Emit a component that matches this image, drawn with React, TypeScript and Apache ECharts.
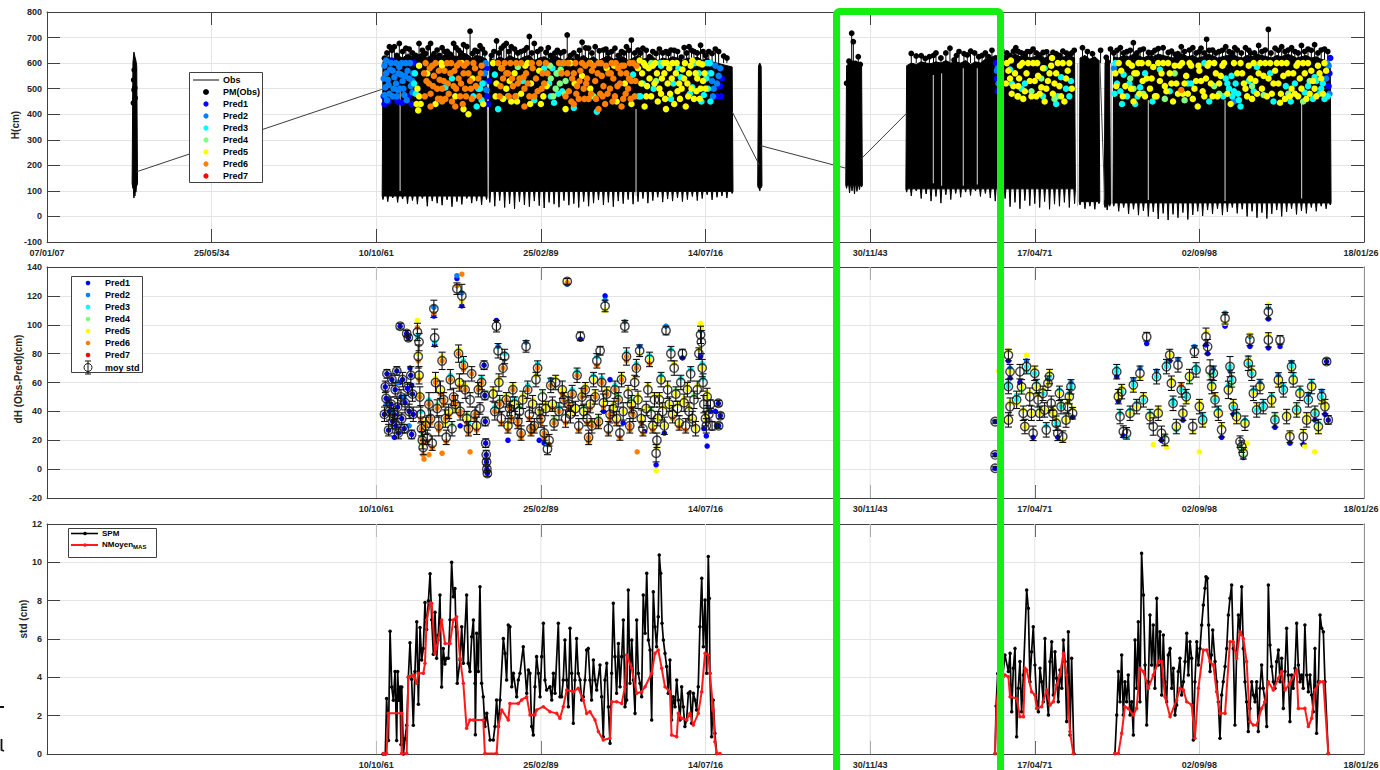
import React, { useEffect, useRef } from 'react';
import * as echarts from 'echarts';

// ---------------- axis ticks / labels ----------------
const xTickLabels = ['07/01/07', '25/05/34', '10/10/61', '25/02/89', '14/07/16', '30/11/43', '17/04/71', '02/09/98', '18/01/26'];
const xTicksLower = [20, 30, 40, 50, 60, 70, 80];
const predNames = ['Pred1', 'Pred2', 'Pred3', 'Pred4', 'Pred5', 'Pred6', 'Pred7'];
const predColors = ['#0000ff', '#0080ff', '#00ffff', '#80ff80', '#ffff00', '#ff8000', '#ff0000'];

// ---------------- panel 1 : H(cm) ----------------
// Obs envelope blocks: [x, low, high]
const obsSpike = [[5.22, 110, 600], [5.28, 72, 643], [5.34, 80, 625], [5.4, 95, 610], [5.45, 120, 590]];
const obsA1 = [[20.41, 66, 605], [20.7, 58, 625], [21.0, 72, 615], [21.3, 55, 630], [21.6, 68, 620], [21.9, 50, 635], [22.2, 62, 625], [22.5, 48, 630], [22.8, 70, 640], [23.1, 40, 620], [23.4, 60, 635], [23.7, 52, 630], [24.0, 44, 625], [24.3, 65, 640], [24.6, 38, 630], [24.9, 58, 625], [25.2, 47, 640], [25.5, 70, 635], [25.8, 52, 620], [26.1, 60, 630], [26.4, 45, 625], [26.7, 66, 615]];
const obsA2 = [[26.9, 55, 620], [27.2, 40, 610], [27.5, 62, 625], [27.8, 35, 615], [28.1, 50, 630], [28.4, 30, 620], [28.7, 58, 615], [29.0, 45, 625], [29.3, 38, 630], [29.6, 60, 610], [29.9, 42, 620], [30.2, 33, 625], [30.5, 55, 615], [30.8, 48, 630], [31.1, 36, 620], [31.4, 62, 610], [31.7, 44, 625], [32.0, 50, 615], [32.3, 35, 620], [32.6, 58, 630], [32.9, 40, 615], [33.2, 52, 625], [33.5, 64, 610], [33.8, 45, 620], [34.1, 55, 630], [34.4, 38, 615], [34.7, 60, 620], [35.0, 50, 625], [35.3, 66, 610], [35.6, 48, 620], [35.9, 58, 630], [36.2, 70, 615], [36.5, 52, 620], [36.8, 62, 625], [37.1, 75, 610], [37.4, 56, 620], [37.7, 68, 615], [38.0, 60, 625], [38.3, 72, 620], [38.6, 58, 610], [38.9, 66, 620], [39.2, 78, 615], [39.5, 62, 625], [39.8, 70, 610], [40.1, 85, 620], [40.4, 65, 605], [40.7, 75, 600], [41.0, 80, 595], [41.3, 72, 590], [41.62, 90, 585]];
const obsMid = [[43.22, 110, 590], [43.3, 100, 600], [43.38, 112, 588]];
const obsC = [[48.57, 110, 590], [48.75, 92, 600], [48.9, 100, 610], [49.05, 88, 600], [49.2, 98, 605], [49.35, 105, 595], [49.48, 115, 590]];
const obsB1 = [[52.22, 95, 590], [52.5, 80, 600], [52.8, 100, 595], [53.1, 70, 605], [53.4, 88, 600], [53.7, 60, 598], [54.0, 78, 605], [54.3, 52, 600], [54.6, 85, 610], [54.9, 66, 600], [55.2, 90, 605], [55.5, 75, 600], [55.8, 95, 610], [56.1, 82, 595], [56.4, 100, 605], [56.7, 78, 600], [57.0, 90, 615], [57.3, 72, 620], [57.6, 60, 630], [57.9, 45, 625], [58.2, 70, 630], [58.5, 38, 620], [58.8, 55, 635], [59.1, 30, 625], [59.4, 62, 630], [59.7, 42, 620], [60.0, 50, 625], [60.3, 35, 630], [60.6, 58, 620], [60.9, 28, 625], [61.2, 48, 630], [61.5, 40, 620], [61.8, 55, 625], [62.1, 35, 630], [62.42, 50, 620]];
const obsB2 = [[62.75, 45, 620], [63.05, 30, 630], [63.35, 40, 615], [63.65, 28, 625], [63.9, 50, 610]];
const obsB3 = [[64.27, 35, 600], [64.4, 25, 620], [64.55, 40, 610]];
const obsB4 = [[64.8, 40, 625], [65.1, 20, 620], [65.4, 35, 630], [65.7, 10, 625], [66.0, 28, 635], [66.3, 5, 630], [66.6, 22, 620], [66.9, 0, 630], [67.2, 18, 625], [67.5, -10, 635], [67.8, 12, 630], [68.1, -14, 625], [68.4, 8, 620], [68.7, -5, 630], [69.0, 15, 635], [69.3, -12, 625], [69.6, 6, 630], [69.9, 20, 620], [70.2, 2, 625], [70.5, 25, 635], [70.8, 10, 630], [71.1, 30, 620], [71.4, 5, 625], [71.7, 18, 630], [72.0, 35, 635], [72.3, 12, 625], [72.6, 28, 620], [72.9, 0, 630], [73.2, 20, 625], [73.5, -5, 635], [73.8, 15, 630], [74.1, -8, 625], [74.4, 10, 620], [74.7, 25, 630], [75.0, 0, 625], [75.3, 18, 635], [75.6, 30, 630], [75.9, 8, 620], [76.2, 22, 625], [76.5, 12, 630], [76.8, 35, 620], [77.1, 20, 625], [77.4, 40, 615], [77.7, 30, 610], [77.95, 45, 600]];
// connecting segments of Obs across data gaps: [x1, y1, x2, y2]
const obsLinks = [[5.45, 175, 20.33, 497], [41.62, 410, 43.27, 201], [43.35, 277, 48.57, 188], [49.48, 227, 52.22, 404], [63.95, 612, 64.25, 64]];
// short data gaps inside blocks: [x, low, high]
const obsGaps = [[21.45, 100, 490], [26.8, 70, 600], [35.78, 80, 420], [53.84, 130, 553], [54.34, 120, 560], [55.66, 120, 580], [56.51, 125, 580], [62.6, 40, 600], [64.67, 50, 600], [66.9, 64, 456], [71.56, 60, 456], [76.21, 70, 456]];

const pmObs = [
  [5.3, 573], [5.27, 534], [5.33, 503], [5.29, 495], [5.35, 463], [5.25, 444],
  [20.5, 619], [20.8, 664], [21.1, 664], [21.4, 677], [21.8, 658], [22.2, 640], [22.6, 677], [23.0, 638], [23.3, 677], [23.7, 651], [24.0, 660], [24.3, 650], [24.7, 677], [25.0, 650], [25.3, 672], [25.5, 668], [25.7, 725], [26.0, 650], [26.3, 668], [26.6, 640], [27.0, 630], [27.3, 690], [27.6, 658], [27.9, 677], [28.2, 664], [28.6, 640], [29.0, 650], [29.3, 704], [29.6, 677], [29.8, 645], [30.3, 645], [30.6, 630], [31.2, 640], [31.6, 710], [31.8, 630], [32.2, 625], [32.5, 684], [32.9, 658], [33.3, 664], [33.8, 651], [34.1, 640], [34.5, 658], [34.9, 645], [35.2, 664], [35.5, 690], [35.9, 651], [36.2, 658], [36.6, 625], [37.0, 638], [37.6, 645], [37.9, 651], [38.3, 645], [38.7, 664], [39.0, 664], [39.3, 645], [39.7, 670], [40.0, 630], [40.4, 638], [40.8, 645], [41.1, 630],
  [20.65, 640], [20.95, 650], [21.25, 630], [21.6, 645], [22.0, 655], [22.4, 630], [22.8, 650], [23.15, 660], [23.5, 640], [23.85, 630], [24.15, 645], [24.5, 635], [24.85, 660], [25.15, 640], [25.85, 638], [26.15, 645], [26.45, 655], [27.15, 645], [27.45, 640], [27.75, 668], [28.05, 645], [28.4, 655], [28.8, 645], [29.15, 660], [29.45, 640], [30.0, 655], [30.45, 660], [30.85, 640], [31.0, 650], [31.4, 645], [32.0, 640], [32.35, 650], [32.7, 664], [33.1, 640], [33.55, 648], [33.95, 655], [34.3, 645], [34.7, 630], [35.05, 640], [35.35, 650], [35.7, 640], [36.05, 640], [36.4, 650], [36.8, 645], [37.2, 655], [37.4, 640], [37.75, 638], [38.1, 650], [38.5, 630], [38.85, 640], [39.15, 650], [39.5, 640], [39.85, 645], [40.2, 645], [40.6, 655], [41.3, 620],
  [48.88, 717], [48.98, 684], [48.7, 612], [49.1, 599], [49.28, 625], [48.57, 521], [49.4, 595],
  [52.5, 638], [53.1, 632], [53.6, 625], [54.0, 640], [54.85, 658], [55.1, 612], [55.4, 645], [55.7, 640], [56.1, 650], [56.6, 625], [57.0, 640], [57.4, 650], [57.8, 600], [58.3, 640], [58.7, 650], [59.0, 645], [59.4, 636], [59.7, 651], [60.1, 640], [60.5, 645], [60.9, 632], [61.3, 640], [61.7, 650], [62.1, 636], [62.4, 650], [62.9, 660], [63.2, 645], [64.0, 650],
  [52.8, 628], [53.35, 618], [53.85, 630], [54.3, 620], [54.6, 640], [55.25, 630], [55.9, 632], [56.35, 640], [56.8, 630], [57.2, 625], [58.0, 650], [58.5, 630], [58.85, 660], [59.2, 640], [59.55, 645], [59.9, 655], [60.3, 632], [60.7, 650], [61.1, 645], [61.5, 630], [61.9, 645], [62.25, 640], [63.5, 640], [64.3, 630],
  [64.6, 655], [65.0, 650], [65.4, 640], [65.99, 680], [66.4, 651], [66.9, 645], [67.3, 650], [67.8, 660], [68.1, 645], [68.5, 640], [68.9, 664], [69.4, 651], [69.8, 640], [70.1, 658], [70.44, 693], [70.8, 651], [71.2, 645], [71.6, 664], [72.0, 640], [72.3, 651], [72.8, 660], [73.1, 645], [73.6, 669], [74.0, 651], [74.19, 732], [74.6, 658], [75.0, 664], [75.4, 651], [75.8, 645], [76.2, 669], [76.6, 655], [77.0, 672], [77.4, 651], [77.8, 645],
  [64.8, 640], [65.2, 660], [65.6, 645], [65.8, 650], [66.2, 640], [66.6, 655], [67.1, 640], [67.5, 660], [68.3, 650], [68.7, 640], [69.1, 645], [69.6, 660], [70.0, 645], [70.3, 640], [70.6, 650], [71.0, 640], [71.4, 650], [71.8, 645], [72.15, 660], [72.55, 640], [73.0, 650], [73.35, 640], [73.8, 645], [74.35, 640], [74.8, 650], [75.2, 645], [75.6, 660], [76.0, 640], [76.4, 645], [76.8, 650], [77.2, 640], [77.6, 655]
];

const hPred1 = [[20.45, 470], [20.75, 450], [21.15, 465], [21.55, 445], [21.95, 470], [22.15, 440], [20.95, 610], [26.75, 470], [26.8, 440], [26.85, 530], [40.9, 510], [40.7, 470], [57.65, 600], [57.7, 540], [57.75, 490], [77.9, 560], [77.85, 510], [77.95, 620],
  [20.5, 440], [21.3, 450], [22.3, 600], [26.7, 580], [40.95, 470], [41.0, 540]];
const hPred2 = [[20.5, 590], [20.6, 560], [20.7, 535], [20.55, 505], [20.8, 480], [20.9, 600], [21.0, 570], [21.1, 545], [21.2, 520], [21.3, 495], [21.0, 470], [21.4, 585], [21.5, 555], [21.6, 530], [21.45, 500], [21.7, 475], [21.8, 600], [21.9, 570], [22.0, 540], [22.1, 510], [22.2, 485], [21.85, 455], [22.25, 560], [20.65, 455], [26.55, 520], [26.7, 495], [40.2, 560], [40.4, 530], [40.6, 590], [40.5, 500], [40.8, 550], [57.7, 570], [57.8, 520], [77.85, 590], [77.7, 540],
  [20.45, 540], [20.6, 610], [20.75, 515], [20.85, 575], [21.05, 500], [21.2, 600], [21.35, 560], [21.55, 600], [21.65, 500], [21.75, 550], [22.05, 600], [22.2, 530], [20.5, 475], [21.25, 470], [26.6, 560], [26.65, 600], [40.3, 600], [40.45, 470], [40.7, 520], [40.9, 580],
  [57.75, 580], [77.75, 600], [77.9, 480], [72.1, 450], [64.82, 580]];
const hPred3 = [[22.3, 520], [22.4, 480], [24.2, 505], [24.6, 540], [25.9, 470], [26.1, 430], [26.3, 500], [26.4, 455], [27.2, 555], [27.4, 420], [28.0, 470], [28.9, 530], [29.6, 455], [30.2, 580], [30.5, 520], [30.8, 445], [31.0, 560], [31.3, 490], [32.0, 425], [33.4, 410], [35.6, 555], [36.2, 520], [37.3, 590], [37.9, 460], [38.5, 545], [39.2, 505], [39.6, 560], [39.9, 475], [40.1, 600], [40.3, 450], [58.5, 575], [59.4, 520], [60.6, 580], [61.6, 545], [61.9, 500], [62.1, 470], [61.3, 440], [65.0, 520], [65.2, 490], [65.4, 555], [65.6, 470], [66.1, 440], [66.4, 505], [67.6, 575], [69.3, 520], [70.3, 600], [71.6, 540], [71.8, 500], [72.0, 470], [72.2, 520], [72.4, 455], [73.5, 585], [74.3, 560], [75.8, 520], [76.4, 485], [77.0, 545], [77.4, 500], [77.6, 460],
  [22.35, 560], [26.2, 500], [26.45, 520], [30.6, 470], [30.7, 580], [31.05, 480], [31.35, 600], [36.05, 470], [36.85, 500], [37.25, 600], [38.05, 520], [38.35, 580], [39.05, 480], [39.35, 600], [39.75, 450], [40.05, 540], [40.15, 500], [40.25, 600], [40.35, 560], [35.95, 470],
  [58.6, 520], [59.2, 500], [60.5, 470], [61.4, 470], [62.2, 530], [64.85, 480], [64.9, 600], [65.3, 440], [65.75, 520], [66.25, 470], [66.7, 560], [67.15, 450], [68.2, 490], [69.5, 520], [70.6, 450], [71.45, 470], [71.7, 520], [71.95, 550], [72.1, 490], [72.35, 480], [72.5, 430], [73.0, 530], [73.3, 490], [74.5, 450], [75.25, 510], [75.55, 450], [76.6, 510], [77.1, 530], [77.3, 480], [77.5, 520], [77.8, 470], [76.9, 460]];
const hPred4 = [[30.6, 540], [30.9, 500], [31.2, 575], [31.5, 530], [28.6, 585], [33.2, 470], [37.0, 530], [65.8, 540], [66.6, 480], [68.5, 560], [70.9, 510], [73.9, 475], [76.7, 530], [59.8, 490],
  [30.55, 590], [30.75, 470], [30.95, 560], [31.15, 520], [31.45, 480], [28.5, 470], [36.7, 600],
  [59.0, 470], [60.4, 540], [61.2, 460], [66.0, 500], [67.9, 460], [69.1, 455], [71.2, 480], [73.2, 510], [75.4, 480], [76.3, 450]];
const hPred5 = [[22.5, 500], [22.6, 470], [22.7, 440], [22.55, 415], [23.1, 560], [23.6, 440], [24.0, 590], [24.8, 470], [25.2, 600], [25.6, 400], [25.85, 540], [27.1, 600], [27.3, 520], [27.6, 580], [27.9, 500], [28.2, 450], [28.4, 560], [28.8, 480], [29.2, 600], [29.4, 520], [29.9, 570], [30.0, 440], [31.8, 600], [32.5, 550], [33.0, 500], [34.0, 580], [34.6, 450], [35.1, 520], [35.9, 580], [36.0, 610], [36.4, 470], [36.6, 540], [36.8, 590], [37.1, 450], [37.2, 500], [37.5, 560], [37.7, 520], [38.0, 600], [38.1, 440], [38.3, 490], [38.6, 575], [38.8, 430], [38.9, 520], [39.1, 590], [39.3, 460], [39.5, 540], [39.7, 500], [39.8, 595], [36.3, 430], [37.6, 420],
  [22.45, 440], [22.6, 590], [23.95, 600], [25.3, 420], [26.5, 440], [27.25, 470], [27.7, 460], [28.1, 530], [28.55, 450], [29.05, 590], [29.35, 440], [30.15, 470], [30.35, 510], [31.5, 420], [32.05, 520], [33.0, 600], [34.45, 590], [35.5, 440], [36.1, 520], [36.15, 560], [36.25, 600], [36.45, 510], [36.55, 580], [36.7, 470], [36.9, 520], [36.95, 600], [37.05, 560], [37.3, 480], [37.35, 540], [37.45, 600], [37.55, 460], [37.8, 580], [37.85, 480], [37.95, 540], [38.2, 560], [38.25, 600], [38.4, 520], [38.45, 460], [38.7, 540], [38.75, 600], [38.95, 470], [39.0, 560], [39.15, 500], [39.2, 610], [39.4, 560], [39.45, 490], [39.6, 600], [39.65, 460], [39.85, 530], [39.95, 560], [40.0, 500], [36.35, 590], [37.65, 600], [38.55, 500],
  [58.3, 600], [58.5, 540], [58.6, 480], [58.8, 560], [59.0, 510], [59.1, 590], [59.3, 460], [59.5, 560], [59.7, 530], [59.9, 600], [60.1, 470], [60.2, 550], [60.4, 505], [60.6, 450], [60.8, 530], [61.0, 590], [61.1, 480], [61.3, 560], [61.5, 510], [61.7, 600], [61.8, 450], [62.0, 570],
  [58.25, 520], [58.4, 570], [58.55, 610], [58.7, 510], [58.95, 470], [59.05, 540], [59.25, 600], [59.4, 490], [59.6, 600], [59.8, 470], [60.0, 530], [60.15, 600], [60.3, 480], [60.5, 580], [60.7, 500], [60.9, 560], [61.05, 620], [61.2, 520], [61.4, 600], [61.6, 470], [61.9, 540], [62.1, 600], [62.25, 500],
  [64.9, 560], [65.1, 600], [65.5, 510], [65.9, 590], [66.2, 560], [66.5, 600], [66.8, 540], [67.0, 500], [67.2, 585], [67.4, 470], [67.6, 530], [67.8, 600], [68.0, 490], [68.2, 560], [68.4, 450], [68.6, 520], [68.8, 590], [69.0, 480], [69.2, 550], [69.4, 600], [69.6, 460], [69.8, 530], [70.0, 570], [70.2, 490], [70.4, 540], [70.6, 600], [70.8, 470], [71.0, 560], [71.2, 520], [71.4, 590], [72.6, 560], [72.8, 500], [73.0, 590], [73.2, 460], [73.4, 530], [73.6, 560], [73.8, 500], [74.0, 600], [74.2, 540], [74.4, 480], [74.6, 570], [74.8, 520], [75.0, 600], [75.2, 460], [75.4, 560], [75.6, 500], [75.9, 590], [76.1, 540], [76.3, 600], [76.5, 460], [76.8, 570], [77.0, 500], [77.2, 590], [77.4, 540], [77.6, 600], [69.9, 430], [66.0, 450], [71.9, 440], [74.9, 445], [76.0, 470],
  [64.95, 510], [65.25, 570], [65.35, 470], [65.7, 600], [65.85, 500], [66.05, 560], [66.3, 600], [66.35, 480], [66.55, 530], [66.7, 470], [66.9, 600], [67.1, 540], [67.3, 470], [67.5, 600], [67.7, 560], [67.9, 510], [68.1, 600], [68.3, 520], [68.5, 590], [68.7, 480], [68.95, 600], [69.1, 520], [69.3, 480], [69.5, 590], [69.7, 500], [69.95, 590], [70.1, 530], [70.3, 470], [70.5, 590], [70.7, 520], [70.9, 600], [71.1, 470], [71.3, 550], [71.5, 600], [71.7, 480], [72.1, 600], [72.3, 560], [72.5, 600], [72.7, 520], [72.9, 470], [73.1, 540], [73.3, 600], [73.5, 480], [73.7, 600], [73.9, 550], [74.1, 470], [74.3, 600], [74.5, 520], [74.7, 600], [74.95, 480], [75.1, 550], [75.3, 600], [75.5, 470], [75.7, 560], [75.8, 480], [76.0, 600], [76.2, 500], [76.4, 560], [76.6, 600], [76.7, 480], [76.9, 530], [77.1, 470], [77.3, 560], [77.5, 480], [77.7, 570]];
const hPred6 = [[22.9, 560], [23.0, 600], [23.2, 520], [23.3, 480], [23.4, 590], [23.5, 550], [23.7, 500], [23.8, 570], [23.9, 460], [24.1, 530], [24.3, 600], [24.4, 480], [24.5, 560], [24.7, 510], [24.9, 590], [25.0, 540], [25.1, 470], [25.3, 560], [25.4, 500], [25.5, 600], [25.7, 530], [25.8, 460], [26.0, 580], [26.2, 540], [26.4, 590], [23.3, 430], [24.0, 450], [24.8, 430], [27.5, 470], [27.7, 540], [27.8, 600], [28.0, 560], [28.3, 510], [28.5, 600], [28.7, 540], [29.0, 500], [29.1, 560], [29.3, 470], [29.5, 580], [29.7, 540], [29.8, 490], [30.1, 560], [30.3, 600], [29.0, 430], [31.4, 600], [31.6, 560], [31.7, 490], [31.9, 540], [32.1, 600], [32.2, 510], [32.3, 460], [32.4, 570], [32.6, 500], [32.7, 590], [32.8, 540], [32.9, 460], [33.1, 570], [33.3, 530], [33.5, 600], [33.6, 480], [33.7, 550], [33.8, 510], [33.9, 440], [34.1, 560], [34.2, 500], [34.3, 600], [34.4, 540], [34.5, 470], [34.7, 580], [34.8, 520], [34.9, 590], [35.0, 460], [35.2, 560], [35.3, 500], [35.4, 600], [35.5, 530], [35.7, 470], [35.8, 590], [32.0, 440], [34.9, 430], [33.5, 420], [31.1, 600], [68.9, 495],
  [22.95, 470], [23.05, 530], [23.25, 580], [23.45, 510], [23.6, 600], [23.75, 460], [23.85, 535], [24.0, 500], [24.15, 570], [24.2, 460], [24.35, 520], [24.55, 600], [24.6, 450], [24.75, 570], [24.85, 500], [25.05, 600], [25.15, 520], [25.25, 440], [25.35, 590], [25.45, 470], [25.6, 560], [25.75, 500], [25.9, 600], [26.05, 510], [26.25, 470], [26.35, 560],
  [27.4, 600], [27.55, 510], [27.65, 580], [27.9, 560], [28.05, 470], [28.15, 600], [28.25, 540], [28.45, 470], [28.6, 520], [28.8, 600], [28.95, 545], [29.2, 520], [29.45, 600], [29.6, 470], [29.9, 600], [30.05, 500], [30.2, 520], [30.4, 560],
  [31.25, 560], [31.5, 470], [31.65, 600], [31.85, 450], [32.0, 560], [32.15, 480], [32.35, 530], [32.5, 600], [32.65, 460], [32.75, 520], [32.95, 600], [33.05, 480], [33.2, 590], [33.35, 460], [33.45, 560], [33.65, 600], [33.75, 470], [33.95, 590], [34.05, 480], [34.25, 560], [34.35, 450], [34.55, 600], [34.65, 510], [34.85, 560], [35.05, 590], [35.15, 480], [35.35, 540], [35.45, 460], [35.6, 600], [35.75, 530]];
const hPred7: number[][] = [];

// ---------------- panel 2 : dH ----------------
// moy std: [x, mean, std]
const moyStd = [
  [20.5, 38, 5], [20.55, 57, 4], [20.6, 49, 5], [20.65, 66, 3], [20.75, 27, 4], [20.8, 40, 6], [20.9, 45, 5], [20.95, 62, 4], [21.0, 33, 5], [21.1, 38, 4], [21.15, 55, 5], [21.2, 30, 5], [21.25, 68, 3], [21.3, 43, 6], [21.35, 25, 4], [21.45, 99, 2], [21.5, 50, 5], [21.55, 35, 4], [21.6, 62, 5], [21.7, 28, 3], [21.75, 46, 5], [21.85, 94, 2], [21.95, 91, 2], [21.9, 56, 4], [22.0, 40, 5], [22.1, 65, 6], [22.15, 24, 3], [22.2, 52, 5], [22.25, 38, 5],
  [22.5, 95, 6], [22.55, 78, 8], [22.6, 65, 6], [22.65, 50, 7], [22.7, 38, 6], [22.75, 28, 5], [22.8, 20, 6], [22.85, 15, 5], [22.6, 88, 6],
  [23.0, 30, 6], [23.1, 22, 5], [23.2, 45, 8], [23.3, 35, 6], [23.4, 18, 5], [23.5, 111, 6], [23.55, 91, 6], [23.6, 60, 7], [23.7, 42, 6], [23.8, 30, 7], [23.9, 55, 6], [24.0, 75, 6], [24.1, 48, 5], [24.2, 35, 6], [24.25, 22, 5],
  [24.4, 40, 5], [24.5, 62, 7], [24.6, 28, 5], [24.7, 50, 6], [24.8, 45, 6], [24.9, 125, 4], [25.0, 80, 6], [25.05, 60, 6], [25.1, 40, 6], [25.2, 120, 8], [25.3, 72, 6], [25.4, 55, 6], [25.5, 35, 5], [25.6, 28, 5], [25.7, 48, 5], [25.8, 66, 5],
  [26.0, 38, 5], [26.1, 30, 6], [26.2, 55, 5], [26.3, 42, 4], [26.4, 60, 5], [26.55, 72, 3], [26.6, 51, 3], [26.62, 33, 3], [26.65, 18, 3], [26.68, 10, 3], [26.7, 5, 2], [26.72, 0, 2], [26.75, -3, 2],
  [27.1, 52, 5], [27.2, 40, 6], [27.3, 99, 4], [27.4, 82, 5], [27.45, 60, 6], [27.5, 45, 6], [27.6, 35, 5], [27.7, 70, 6], [27.8, 78, 5], [27.9, 48, 5], [28.0, 30, 5], [28.1, 42, 5], [28.2, 38, 6], [28.3, 55, 5], [28.4, 45, 5], [28.6, 33, 5], [28.7, 40, 5], [28.8, 25, 5], [28.9, 48, 6],
  [29.1, 85, 4], [29.2, 55, 6], [29.3, 38, 5], [29.4, 28, 5], [29.5, 45, 6], [29.6, 30, 5], [29.7, 62, 5], [29.8, 70, 5], [29.9, 40, 5], [30.0, 35, 6], [30.1, 50, 5], [30.2, 25, 5], [30.3, 42, 5], [30.4, 14, 4], [30.5, 20, 4], [30.6, 58, 5], [30.7, 45, 5], [30.8, 32, 5], [30.9, 60, 5],
  [31.1, 40, 6], [31.3, 55, 6], [31.4, 48, 5], [31.5, 35, 6], [31.6, 130, 2], [31.7, 45, 5], [31.8, 38, 6], [31.9, 52, 6], [32.1, 42, 5], [32.2, 65, 5], [32.3, 30, 5], [32.4, 92, 3], [32.5, 50, 6], [32.6, 40, 5], [32.7, 55, 5], [32.8, 35, 5], [32.9, 22, 5],
  [33.0, 45, 6], [33.1, 30, 5], [33.2, 62, 5], [33.3, 50, 5], [33.4, 75, 5], [33.5, 33, 5], [33.6, 82, 3], [33.7, 60, 6], [33.8, 46, 6], [33.9, 113, 4], [34.0, 52, 5], [34.1, 28, 5], [34.2, 38, 6], [34.4, 42, 5], [34.5, 55, 6], [34.6, 35, 5], [34.7, 48, 5], [34.8, 25, 5], [34.9, 62, 5],
  [35.0, 40, 6], [35.1, 99, 4], [35.2, 78, 6], [35.3, 52, 6], [35.4, 30, 5], [35.5, 45, 6], [35.6, 38, 5], [35.7, 60, 5], [35.8, 70, 6], [35.9, 48, 6], [36.0, 82, 4], [36.1, 35, 6], [36.2, 28, 5], [36.4, 42, 5], [36.5, 55, 5], [36.6, 76, 5], [36.7, 38, 5], [36.8, 30, 5], [36.9, 48, 5],
  [37.0, 11, 6], [37.05, 20, 5], [37.1, 35, 5], [37.2, 48, 5], [37.3, 62, 5], [37.4, 40, 6], [37.5, 30, 6], [37.6, 96, 3], [37.7, 55, 6], [37.8, 45, 5], [37.9, 80, 5], [38.0, 38, 6], [38.1, 70, 5], [38.2, 52, 5], [38.3, 42, 5], [38.4, 32, 5], [38.5, 60, 5], [38.6, 80, 3], [38.7, 46, 6], [38.8, 30, 5], [38.9, 55, 5],
  [39.0, 40, 6], [39.1, 66, 5], [39.2, 35, 5], [39.3, 48, 6], [39.4, 28, 5], [39.5, 55, 6], [39.6, 80, 4], [39.7, 93, 6], [39.75, 88, 8], [39.8, 70, 6], [39.85, 60, 6], [39.9, 45, 6], [40.0, 35, 5], [40.05, 30, 5], [40.1, 50, 6], [40.2, 38, 4], [40.3, 45, 3], [40.4, 30, 3], [40.78, 45.6, 2], [40.9, 37, 2], [40.8, 30, 2],
  [57.59, 32.9, 1], [57.59, 9.9, 1], [57.59, 0.6, 1],
  [58.4, 79, 4], [58.5, 67.5, 5], [58.4, 57.2, 5], [58.5, 43.3, 6], [58.4, 34.1, 5], [58.9, 48, 6], [59.1, 67.5, 5], [59.2, 57, 5], [59.3, 38.7, 5], [59.4, 29.5, 5], [59.5, 71, 5], [59.7, 50.2, 6], [59.8, 38.7, 5], [59.9, 24.8, 5], [60.0, 66.4, 5], [60.1, 57.2, 5], [60.2, 48, 5], [60.3, 38.7, 5], [60.5, 52.5, 5], [60.6, 41, 5], [60.7, 27.2, 5], [60.8, 59.5, 5], [60.9, 64.1, 5], [61.0, 45.6, 5], [61.1, 38.7, 5], [61.3, 31.8, 5], [61.4, 24.8, 5], [61.5, 52.5, 5], [61.6, 43.3, 5], [61.7, 22.5, 4], [61.9, 34, 5], [62.0, 43.3, 5], [62.1, 50.2, 5], [62.2, 57, 5], [62.3, 38.7, 4],
  [64.98, 67.5, 5], [65.08, 50.2, 5], [65.18, 36.4, 5], [65.28, 53.7, 5], [65.38, 26, 4], [65.58, 24.8, 4], [65.79, 38.7, 5], [65.99, 58.3, 5], [66.19, 43.3, 5], [66.39, 66.4, 5], [66.6, 48, 5], [66.8, 91.7, 3], [67.0, 36.4, 5], [67.2, 29.5, 6], [67.4, 64, 5], [67.5, 38.7, 5], [67.7, 24.8, 5], [67.9, 20.2, 4], [68.0, 71, 5], [68.2, 79, 4], [68.3, 59.5, 5], [68.4, 45.6, 5], [68.6, 29.5, 5], [68.7, 72.2, 5], [68.9, 54.9, 5], [69.0, 38.7, 5], [69.2, 50.2, 5], [69.4, 64.1, 5], [69.6, 29.5, 5], [69.7, 81.4, 4], [69.8, 68.7, 5], [70.0, 43.3, 5], [70.2, 34.1, 5], [70.4, 91.7, 6], [70.5, 84.8, 5], [70.65, 68.7, 7], [70.75, 57.2, 5], [70.85, 66.4, 5], [70.95, 48, 5], [71.15, 38.7, 5], [71.35, 27.2, 5], [71.56, 104.5, 4], [71.76, 54.9, 6], [71.86, 71, 7], [71.96, 61.8, 5], [72.06, 43.3, 5], [72.26, 36.4, 5], [72.47, 19, 4], [72.57, 15.6, 4], [72.67, 11, 4], [72.77, 31.8, 5], [72.97, 73.3, 5], [73.07, 89.5, 4], [73.18, 66.4, 5], [73.28, 52.5, 5], [73.48, 41, 5], [73.68, 57.2, 5], [73.88, 43.3, 5], [74.19, 109, 5], [74.19, 89.5, 5], [74.39, 48, 5], [74.59, 34.1, 5], [74.8, 61.8, 5], [74.9, 89.5, 3], [75.1, 54.9, 5], [75.3, 36.4, 5], [75.5, 22.5, 4], [75.6, 71, 4], [75.7, 61.8, 5], [75.91, 41, 5], [76.11, 52.5, 5], [76.31, 22.5, 5], [76.52, 34.1, 5], [76.62, 48, 5], [76.82, 57.2, 5], [77.02, 38.7, 5], [77.23, 29.5, 5], [77.43, 50.2, 5], [77.63, 43.3, 5], [77.73, 74.5, 2], [77.83, 34.1, 3]
];

const dPred1 = [[20.5, 38], [20.55, 57], [20.6, 49], [20.65, 66], [20.75, 27], [20.8, 40], [20.9, 45], [20.95, 62], [21.0, 33], [21.1, 38], [21.15, 55], [21.2, 30], [21.25, 68], [21.3, 43], [21.35, 25], [21.45, 99], [21.5, 50], [21.55, 35], [21.6, 62], [21.7, 28], [21.75, 46], [21.85, 94], [21.95, 91], [21.9, 56], [22.0, 40], [22.1, 65], [22.15, 24], [22.2, 52], [22.25, 38], [21.1, 22], [20.7, 48], [21.4, 60], [22.05, 70], [22.15, 58], [26.55, 72], [26.6, 51], [26.62, 33], [26.65, 18], [26.68, 10], [26.7, 5], [26.72, 0], [26.75, -3], [57.59, 32.9], [57.59, 9.9], [57.59, 0.6], [40.78, 45.6], [40.9, 37], [40.8, 30],
  [23.5, 106], [23.55, 86], [25.2, 113], [24.9, 132], [25.1, 30], [27.3, 103], [28.0, 20], [29.9, 20], [30.2, 18], [32.4, 90], [33.9, 120], [33.8, 40], [34.2, 62], [35.0, 32], [36.3, 26], [37.0, 3], [37.5, 25], [38.6, 77], [39.7, 78], [39.9, 28], [40.05, 23], [40.1, 16], [40.3, 40], [40.6, 40], [40.7, 30], [58.4, 75], [58.5, 63], [59.1, 60], [59.9, 22], [61.0, 40], [61.4, 22], [62.3, 36], [64.98, 64], [65.08, 47], [65.38, 23], [66.8, 87], [67.7, 20], [68.2, 75], [69.0, 34], [70.4, 86], [70.5, 80], [71.56, 99], [71.35, 22], [72.06, 38], [72.67, 8], [73.07, 85], [74.19, 104], [74.19, 84], [74.59, 29], [74.9, 85], [75.5, 18], [76.31, 17], [77.02, 34], [77.63, 38], [77.73, 74.5], [77.83, 34]];
const dPred2 = [[20.6, 45], [21.0, 40], [21.3, 60], [21.7, 50], [22.0, 30], [24.9, 134], [25.2, 122], [23.5, 112], [27.4, 85], [29.1, 88], [30.6, 62], [31.6, 128], [33.9, 117], [35.1, 102], [36.0, 85], [37.6, 99], [39.7, 96], [40.2, 42], [58.5, 70], [59.5, 75], [60.8, 62], [62.2, 60], [65.99, 62], [66.39, 70], [67.4, 68], [68.7, 76], [69.7, 85], [70.85, 70], [71.56, 108], [72.97, 77], [73.68, 60], [74.8, 65], [75.6, 74], [76.62, 52], [77.43, 54], [71.86, 68], [73.07, 92], [74.19, 112]];
const dPred3 = [[22.5, 92], [22.7, 40], [23.2, 48], [23.55, 88], [24.5, 65], [25.3, 75], [25.6, 32], [26.4, 63], [27.2, 43], [27.8, 80], [28.4, 48], [29.2, 58], [29.8, 73], [30.4, 17], [31.1, 43], [31.9, 55], [32.2, 68], [33.2, 65], [33.4, 78], [33.7, 63], [34.5, 58], [35.2, 81], [35.8, 73], [36.6, 79], [37.3, 65], [37.9, 83], [38.5, 63], [39.1, 69], [39.8, 73], [39.85, 63], [58.4, 60], [58.9, 51], [59.5, 68], [60.1, 60], [60.7, 30], [61.5, 55], [62.1, 53], [64.98, 70], [65.18, 39], [65.79, 41], [66.19, 46], [67.0, 39], [68.0, 74], [68.4, 48], [69.2, 53], [69.8, 71], [70.2, 37], [70.75, 60], [71.15, 41], [71.76, 58], [72.26, 39], [72.77, 34], [73.28, 55], [73.88, 46], [74.39, 51], [75.1, 58], [75.7, 65], [76.11, 55], [76.82, 60], [77.23, 32], [65.58, 22], [68.6, 27],
  [58.4, 57.2], [58.9, 48], [59.5, 71], [60.0, 66.4], [60.5, 52.5], [60.9, 64.1], [61.3, 31.8], [61.6, 43.3], [62.2, 57], [64.98, 67.5], [65.28, 53.7], [65.99, 58.3], [66.6, 48], [67.4, 64], [68.0, 71], [68.4, 45.6], [68.9, 54.9], [69.2, 50.2], [69.8, 68.7], [70.2, 34.1], [70.85, 66.4], [70.95, 48], [71.86, 71], [71.96, 61.8], [72.06, 43.3], [72.97, 73.3], [73.18, 66.4], [73.48, 41], [73.88, 43.3], [74.59, 34.1], [75.1, 54.9], [75.6, 71], [75.91, 41], [76.62, 48], [77.02, 38.7], [77.43, 50.2]];
const dPred4 = [[22.8, 23], [23.7, 45], [24.6, 31], [25.5, 38], [27.5, 48], [28.7, 43], [30.1, 53], [30.8, 35], [32.6, 43], [33.5, 36], [34.7, 51], [35.5, 48], [36.7, 41], [38.2, 55], [39.3, 51], [59.2, 54], [60.3, 42], [61.6, 46], [65.28, 56], [66.6, 51], [67.9, 23], [69.4, 61], [70.65, 65], [71.96, 59], [72.57, 13], [73.48, 44], [74.59, 37], [75.91, 44], [77.02, 41], [72.47, 16], [72.67, 9]];
const dPred5 = [[22.5, 103], [22.55, 80], [22.65, 52], [22.8, 17], [23.0, 33], [23.6, 63], [24.0, 78], [24.2, 32], [24.8, 42], [25.0, 83], [25.2, 116], [25.4, 58], [26.2, 57], [27.1, 55], [27.45, 63], [27.9, 51], [28.3, 58], [28.9, 51], [29.5, 48], [29.7, 65], [30.3, 45], [30.9, 63], [31.4, 51], [31.6, 131], [31.8, 41], [32.5, 53], [32.7, 58], [33.1, 33], [33.3, 53], [33.9, 110], [34.0, 55], [34.4, 45], [34.9, 65], [35.3, 55], [35.7, 63], [35.9, 51], [36.0, 79], [36.5, 58], [36.9, 51], [37.0, -1], [37.05, 15], [37.2, 51], [37.4, 43], [37.7, 58], [38.1, 73], [38.3, 45], [38.7, 49], [38.9, 58], [39.0, 43], [39.5, 58], [39.6, 83], [39.7, 101], [39.75, 98], [40.0, 38], [40.1, 53],
  [57.8, 68], [58.4, 82], [58.5, 46], [58.9, 45], [59.3, 41], [59.5, 79], [59.7, 53], [60.0, 70], [60.2, 51], [60.5, 55], [60.9, 67], [61.1, 41], [61.3, 35], [61.7, 20], [62.0, 46], [62.3, 42], [65.08, 53], [65.28, 57], [65.99, 55], [66.39, 63], [66.6, 51], [67.2, 17], [67.5, 42], [68.22, 79], [68.3, 62], [68.9, 58], [69.23, 47], [69.63, 26], [70.04, 46], [70.24, 31], [70.44, 95], [70.95, 51], [71.35, 30], [71.56, 101], [72.06, 46], [72.26, 33], [72.97, 76], [73.07, 93], [73.18, 69], [73.48, 44], [74.19, 114], [74.19, 93], [74.39, 45], [74.8, 58], [75.3, 39], [75.5, 25], [75.6, 68], [75.91, 38], [76.31, 26], [76.52, 37], [77.23, 26], [77.43, 47], [77.63, 46], [76.4, 16], [77.0, 12], [72.8, 14], [70.0, 12], [68.0, 15], [72.9, 18],
  [22.6, 65], [23.9, 55], [24.4, 40], [25.05, 60], [25.5, 35], [26.1, 30], [27.1, 52], [27.45, 60], [28.0, 30], [28.4, 45], [28.9, 48], [29.5, 45], [29.9, 40], [30.3, 42], [30.7, 45], [31.3, 55], [31.8, 38], [32.1, 42], [32.6, 40], [33.0, 45], [33.2, 62], [33.8, 46], [34.4, 42], [34.6, 35], [35.0, 40], [35.5, 45], [35.9, 48], [36.1, 35], [36.4, 42], [36.6, 76], [36.8, 30], [37.1, 35], [37.3, 62], [37.5, 30], [37.8, 45], [38.0, 38], [38.2, 52], [38.4, 32], [38.7, 46], [38.9, 55], [39.2, 35], [39.4, 28], [39.8, 70], [40.0, 35], [40.1, 50],
  [58.5, 67.5], [58.4, 34.1], [59.2, 57], [59.4, 29.5], [59.8, 38.7], [60.1, 57.2], [60.3, 38.7], [60.6, 41], [60.8, 59.5], [61.1, 38.7], [61.5, 52.5], [61.9, 34], [62.1, 50.2], [65.08, 50.2], [65.79, 38.7], [66.19, 43.3], [67.0, 36.4], [67.5, 38.7], [68.3, 59.5], [68.6, 29.5], [69.0, 38.7], [69.4, 64.1], [70.0, 43.3], [70.75, 57.2], [71.15, 38.7], [71.76, 54.9], [72.26, 36.4], [72.77, 31.8], [73.28, 52.5], [73.68, 57.2], [74.39, 48], [74.8, 61.8], [75.3, 36.4], [75.7, 61.8], [76.11, 52.5], [76.52, 34.1], [76.82, 57.2], [77.23, 29.5], [77.63, 43.3]];
const dPred6 = [[22.5, 98], [22.55, 75], [22.6, 62], [22.7, 35], [22.8, 20], [22.85, 10], [23.1, 19], [23.3, 32], [23.4, 15], [23.5, 108], [23.8, 27], [23.9, 52], [24.1, 45], [24.25, 19], [24.4, 37], [24.7, 47], [24.9, 127], [25.05, 57], [25.1, 37], [25.2, 135], [25.3, 69], [25.5, 32], [25.6, 25], [26.0, 35], [26.1, 27], [27.6, 32], [28.0, 27], [28.2, 35], [28.6, 30], [28.8, 22], [29.3, 35], [29.4, 25], [29.6, 27], [30.0, 32], [30.2, 22], [30.5, 17], [30.7, 42], [31.3, 52], [31.5, 32], [31.6, 129], [31.7, 42], [32.3, 27], [32.8, 32], [32.9, 19], [33.0, 42], [33.4, 72], [33.5, 30], [33.8, 43], [34.1, 25], [34.2, 35], [34.6, 32], [34.8, 22], [35.2, 75], [35.4, 27], [35.5, 42], [36.1, 32], [36.2, 25], [36.6, 73], [36.8, 27], [38.0, 35], [38.4, 29], [38.8, 27], [24.0, 11], [23.2, 10], [22.9, 7], [25.7, 12], [35.85, 12], [68.9, 58],
  [22.65, 50], [22.75, 28], [23.0, 30], [23.2, 45], [23.3, 35], [23.6, 60], [23.7, 42], [23.8, 30], [24.0, 75], [24.1, 48], [24.2, 35], [24.5, 62], [24.7, 50], [24.8, 45], [25.0, 80], [25.1, 40], [25.3, 72], [25.4, 55], [25.6, 28], [25.8, 66], [26.0, 38], [26.2, 55], [26.4, 60], [27.2, 40], [27.5, 45], [27.7, 70], [27.9, 48], [28.1, 42], [28.3, 55], [28.6, 33], [28.8, 25], [29.2, 55], [29.4, 28], [29.6, 30], [29.8, 70], [30.0, 35], [30.2, 25], [30.6, 58], [30.8, 32], [31.1, 40], [31.4, 48], [31.7, 45], [31.9, 52], [32.2, 65], [32.5, 50], [32.7, 55], [32.9, 22], [33.1, 30], [33.3, 50], [33.5, 33], [33.7, 60], [34.0, 52], [34.2, 38], [34.5, 55], [34.7, 48], [34.9, 62], [35.2, 78], [35.4, 30], [35.6, 38], [35.8, 70]];
const dPred7: number[][] = [];

// ---------------- panel 3 : std ----------------
const spm1 = [[20.41, 0], [20.55, 0], [20.63, 2.9], [20.74, 0.7], [20.84, 6.4], [20.94, 3.5], [21.04, 2.8], [21.14, 4.3], [21.24, 0.7], [21.3, 4.3], [21.37, 2.8], [21.44, 3.5], [21.5, 0.5], [21.55, 3.5], [21.65, 0], [21.75, 0.8], [21.85, 1.5], [21.95, 4.0], [22.05, 5.8], [22.15, 3.9], [22.25, 1.5], [22.35, 4.3], [22.46, 6.9], [22.56, 2.6], [22.66, 6.6], [22.76, 4.9], [22.86, 5.5], [22.96, 7.9], [23.06, 6.5], [23.17, 8.0], [23.27, 9.4], [23.37, 7.0], [23.47, 5.2], [23.57, 7.4], [23.67, 5.0], [23.77, 6.2], [23.87, 8.3], [23.97, 3.5], [24.07, 5.5], [24.17, 4.7], [24.27, 5.0], [24.38, 5.0], [24.48, 7.0], [24.58, 10.0], [24.68, 8.2],
  [24.78, 8.64], [24.84, 6.64], [24.92, 3.69], [25.09, 4.9], [25.19, 6.64], [25.29, 4.73], [25.49, 8.3], [25.59, 4.73], [25.69, 4.3], [25.8, 6.12], [25.9, 6.99], [26.0, 3.69], [26.02, 1.0], [26.1, 6.3], [26.2, 4.3], [26.3, 8.73], [26.4, 3.69], [26.5, 2.99], [26.6, 1.43], [26.71, 2.12], [26.91, 0.73], [27.11, 0.73], [27.21, 1.43], [27.31, 2.82], [27.42, 1.43], [27.52, 2.82], [27.72, 6.03], [27.82, 5.25], [27.92, 3.86], [28.02, 6.73], [28.12, 6.64], [28.23, 3.51], [28.33, 4.21], [28.53, 2.99], [28.63, 3.86], [28.73, 4.21], [28.93, 5.6], [29.14, 3.17], [29.24, 4.38], [29.34, 4.21], [29.44, 1.43], [29.54, 0.99], [29.64, 3.51], [29.74, 5.08], [29.85, 4.21], [29.95, 2.99], [30.05, 5.08], [30.15, 6.82], [30.25, 3.86], [30.35, 3.34], [30.55, 3.51], [30.66, 2.82], [30.76, 4.21], [30.86, 3.17], [31.06, 6.82], [31.16, 2.99], [31.26, 2.99], [31.36, 3.86], [31.46, 5.95], [31.57, 3.86], [31.67, 2.47], [31.77, 6.56], [31.87, 4.21], [31.97, 1.6], [32.07, 3.86], [32.17, 6.03], [32.27, 4.21], [32.38, 3.86], [32.48, 2.82], [32.58, 2.99], [32.68, 3.86], [32.78, 5.43], [32.88, 5.51], [32.98, 3.86], [33.08, 2.82], [33.19, 4.9], [33.29, 3.86], [33.39, 3.34], [33.59, 4.64], [33.69, 2.99], [33.79, 0.9], [33.89, 3.86], [34.0, 4.73], [34.1, 2.47], [34.2, 0.56], [34.3, 4.21], [34.4, 7.86], [34.5, 5.08], [34.6, 3.17], [34.71, 5.77], [34.81, 3.51], [34.91, 5.08], [35.01, 6.99], [35.11, 2.47], [35.21, 2.82], [35.31, 8.56], [35.41, 3.69], [35.52, 5.95], [35.62, 3.86], [35.72, 2.12], [35.82, 6.99], [35.92, 4.21], [36.02, 3.69], [36.12, 2.99], [36.22, 8.3], [36.33, 6.3], [36.43, 9.43], [36.53, 5.95], [36.63, 5.43], [36.73, 1.77], [36.83, 8.47], [36.93, 6.64], [37.03, 5.6], [37.13, 7.16], [37.19, 10.38], [37.28, 9.43], [37.36, 6.82], [37.44, 5.95], [37.54, 5.25], [37.64, 4.56], [37.74, 3.17], [37.84, 4.9], [37.94, 1.77], [38.04, 2.99], [38.15, 2.47], [38.25, 3.86], [38.35, 2.82], [38.45, 1.77], [38.55, 3.51], [38.65, 2.47], [38.75, 1.43], [38.85, 1.77], [38.96, 3.17], [39.06, 3.25], [39.16, 1.6], [39.26, 3.17], [39.36, 2.82], [39.46, 2.3], [39.56, 3.51], [39.66, 6.64], [39.77, 9.17], [39.87, 5.6], [39.97, 8.03], [40.07, 4.21], [40.17, 10.3], [40.23, 8.12], [40.27, 4.21], [40.37, 0.9], [40.47, 2.82], [40.57, 1.08], [40.68, 0.03]];
const spm2 = [[57.59, 0.03], [57.65, 2.5], [57.75, 4.2], [57.85, 3.2], [57.95, 5.0], [58.05, 4.0], [58.19, 5.17], [58.4, 4.3], [58.5, 5.25], [58.6, 2.21], [58.7, 4.47], [58.8, 5.51], [58.9, 0.9], [59.0, 3.43], [59.1, 4.82], [59.2, 2.21], [59.31, 4.12], [59.51, 8.56], [59.61, 7.6], [59.71, 3.77], [59.81, 5.34], [59.91, 6.64], [60.01, 4.64], [60.12, 2.73], [60.22, 2.21], [60.32, 4.47], [60.42, 3.77], [60.52, 2.73], [60.62, 6.03], [60.72, 3.08], [60.83, 2.03], [60.93, 4.82], [61.03, 5.86], [61.13, 3.08], [61.23, 5.34], [61.33, 3.95], [61.43, 2.73], [61.53, 4.38], [61.64, 3.43], [61.74, 5.95], [61.84, 4.82], [61.94, 1.69], [62.04, 6.38], [62.14, 0.99], [62.24, 4.99], [62.38, 0.03]];
const spm3 = [[64.87, 0.03], [64.98, 2.03], [65.08, 4.3], [65.18, 2.73], [65.28, 5.17], [65.38, 2.03], [65.48, 3.77], [65.58, 2.73], [65.68, 4.12], [65.79, 2.03], [65.89, 2.73], [65.99, 0.99], [66.09, 5.95], [66.19, 3.43], [66.29, 6.9], [66.39, 2.73], [66.49, 10.47], [66.6, 8.3], [66.7, 4.64], [66.8, 1.51], [66.9, 3.77], [67.0, 7.25], [67.1, 4.64], [67.2, 6.73], [67.3, 3.43], [67.41, 8.12], [67.51, 4.64], [67.61, 6.38], [67.71, 3.08], [67.81, 6.21], [67.91, 3.77], [68.01, 2.73], [68.11, 5.17], [68.22, 5.51], [68.32, 3.43], [68.42, 4.47], [68.52, 2.03], [68.62, 2.56], [68.72, 4.3], [68.82, 4.99], [68.92, 3.08], [69.03, 3.77], [69.13, 4.82], [69.23, 6.3], [69.33, 4.12], [69.43, 5.86], [69.53, 4.99], [69.63, 0.73], [69.73, 3.77], [69.84, 5.86], [69.94, 4.64], [70.04, 5.51], [70.14, 6.73], [70.24, 7.77], [70.34, 8.65], [70.4, 9.25], [70.48, 9.17], [70.56, 6.73], [70.65, 4.3], [70.73, 5.17], [70.81, 6.47], [70.95, 4.82], [71.05, 3.77], [71.15, 2.73], [71.25, 0.82], [71.35, 3.08], [71.45, 3.77], [71.56, 4.56], [71.66, 5.51], [71.76, 7.25], [71.86, 8.12], [71.96, 8.82], [72.06, 5.51], [72.16, 1.51], [72.26, 5.17], [72.37, 7.25], [72.47, 6.38], [72.57, 8.73], [72.67, 5.51], [72.77, 3.77], [72.87, 2.73], [72.97, 1.17], [73.07, 2.38], [73.18, 3.77], [73.28, 3.08], [73.38, 2.73], [73.48, 3.77], [73.58, 1.17], [73.68, 3.43], [73.78, 4.64], [73.88, 3.43], [73.99, 2.73], [74.09, 1.43], [74.19, 8.82], [74.29, 5.69], [74.39, 4.56], [74.49, 3.77], [74.59, 3.43], [74.69, 4.82], [74.8, 5.43], [74.9, 3.77], [75.0, 4.99], [75.1, 2.38], [75.2, 4.3], [75.3, 6.56], [75.4, 4.12], [75.5, 1.69], [75.6, 4.12], [75.7, 3.43], [75.81, 4.47], [75.91, 6.82], [76.01, 4.64], [76.11, 3.77], [76.21, 4.12], [76.31, 3.43], [76.41, 6.73], [76.52, 4.12], [76.62, 3.25], [76.72, 4.12], [76.82, 3.08], [76.92, 2.21], [77.02, 5.51], [77.12, 1.08], [77.23, 3.77], [77.33, 7.25], [77.43, 6.56], [77.53, 6.38], [77.63, 3.77], [77.83, 0.03]];
const nmoy1 = [[20.43, 0.03], [20.63, 0.03], [20.73, 2.12], [21.54, 2.12], [21.54, 0.03], [21.85, 0.03], [21.95, 4.03], [22.25, 4.12], [22.45, 3.69], [22.56, 4.21], [22.86, 4.21], [22.96, 4.73], [23.06, 6.99], [23.27, 7.86], [23.37, 7.86], [23.57, 5.25], [23.77, 5.95], [23.97, 6.99], [24.18, 5.77], [24.48, 5.77], [24.68, 6.99], [24.88, 7.16], [25.09, 4.99], [25.29, 3.69], [25.49, 1.34], [25.69, 1.77], [25.9, 1.77], [26.5, 1.77], [26.6, 0.03], [27.31, 0.03], [27.42, 1.43], [27.62, 2.3], [28.02, 1.77], [28.12, 2.64], [28.63, 2.64], [28.83, 2.82], [29.14, 2.99], [29.34, 2.03], [29.64, 2.03], [29.74, 2.3], [30.15, 2.47], [30.55, 2.21], [30.96, 2.12], [31.16, 1.86], [31.36, 2.47], [31.57, 3.34], [31.97, 3.25], [32.27, 3.43], [32.58, 2.82], [32.78, 2.12], [32.98, 2.21], [33.29, 1.77], [33.49, 1.17], [33.79, 0.73], [34.2, 0.82], [34.3, 2.73], [34.6, 2.73], [34.91, 2.64], [35.11, 3.51], [35.21, 5.17], [35.52, 4.47], [35.82, 3.17], [36.12, 3.25], [36.33, 3.51], [36.73, 4.21], [36.93, 5.25], [37.13, 5.43], [37.34, 4.47], [37.54, 3.51], [37.84, 3.25], [37.94, 0.99], [38.25, 0.9], [38.35, 2.12], [38.55, 1.86], [38.85, 1.77], [39.06, 2.12], [39.26, 1.51], [39.56, 2.12], [39.77, 3.25], [39.97, 5.25], [40.17, 5.17], [40.27, 4.21], [40.47, 2.3], [40.57, 0.64], [40.68, 0.03], [40.88, 0.03]];
const nmoy2 = [[57.59, 0.03], [57.69, 2.65], [57.8, 3.5], [58.0, 4.2], [58.19, 4.12], [58.4, 4.03], [58.5, 2.99], [58.9, 2.9], [59.1, 1.95], [59.31, 1.95], [59.41, 4.47], [59.51, 4.38], [59.81, 3.25], [60.01, 3.08], [60.12, 2.38], [60.42, 2.47], [60.72, 3.34], [60.93, 2.56], [61.13, 2.73], [61.33, 3.6], [61.53, 4.12], [61.74, 5.25], [61.94, 4.12], [62.14, 1.17], [62.34, 0.03]];
const nmoy3 = [[64.87, 0.03], [65.08, 0.03], [65.28, 1.08], [65.48, 2.47], [65.68, 2.38], [65.99, 2.03], [66.19, 2.38], [66.39, 4.47], [66.6, 4.3], [66.9, 3.43], [67.2, 4.12], [67.51, 4.82], [67.71, 4.82], [67.91, 2.99], [68.22, 1.95], [68.62, 2.82], [68.82, 3.43], [69.03, 3.34], [69.23, 2.73], [69.53, 2.56], [69.73, 0.82], [69.94, 3.43], [70.24, 5.43], [70.44, 5.43], [70.65, 4.82], [70.85, 4.64], [71.05, 3.25], [71.25, 2.12], [71.56, 2.12], [71.86, 5.86], [72.06, 5.86], [72.26, 4.99], [72.47, 6.38], [72.67, 6.03], [72.87, 4.82], [73.07, 1.69], [73.28, 1.51], [73.48, 1.51], [73.78, 2.38], [73.99, 2.73], [74.19, 3.77], [74.49, 3.34], [74.8, 3.95], [75.0, 4.3], [75.2, 3.34], [75.5, 3.69], [75.91, 4.38], [76.01, 2.38], [76.41, 2.38], [76.62, 1.43], [76.82, 1.86], [77.02, 3.34], [77.33, 3.77], [77.53, 3.77], [77.83, 0.03]];

// ---------------- styling ----------------
const FONT = 'Liberation Sans, Arial, Helvetica, sans-serif';
const TXT = '#262626';
const LINE = '#404040';
const GRID = '#e4e4e4';
const GREEN = '#14ee14';

const xLabel = (v: number, lower: boolean) => {
  if (lower && v < 20) return '';
  const i = Math.round(v / 10);
  const s = xTickLabels[i] ?? '';
  return i === xTickLabels.length - 1 ? '{last|' + s + '}' : s;
};

function xAx(gi: number, pos: string, lower: boolean) {
  const tick: any = { show: true, inside: true, length: 13, lineStyle: { color: LINE, width: 1 } };
  const label: any = {
    show: pos === 'bottom', margin: 6, fontSize: 9, fontWeight: 'bold', color: TXT, fontFamily: FONT,
    formatter: (v: number) => xLabel(v, lower),
    rich: { last: { fontSize: 9, fontWeight: 'bold', color: TXT, fontFamily: FONT, padding: [0, 6, 0, 0] } },
  };
  if (lower) { tick.customValues = xTicksLower; label.customValues = xTicksLower; }
  return {
    type: 'value', gridIndex: gi, min: 0, max: 80, interval: 10, position: pos,
    axisLine: { show: true, onZero: false, lineStyle: { color: LINE, width: 1 } },
    axisTick: tick, axisLabel: label,
    splitLine: { show: pos === 'bottom' && !lower, lineStyle: { color: GRID, width: 1 } },
  };
}
function yAx(gi: number, pos: string, min: number, max: number, step: number) {
  return {
    type: 'value', gridIndex: gi, min, max, interval: step, position: pos,
    axisLine: { show: true, onZero: false, lineStyle: { color: LINE, width: 1 } },
    axisTick: { show: true, inside: true, length: 13, lineStyle: { color: LINE, width: 1 } },
    axisLabel: { show: pos === 'left', margin: 5, fontSize: 9, fontWeight: 'bold', color: TXT, fontFamily: FONT },
    splitLine: { show: pos === 'left', lineStyle: { color: GRID, width: 1 } },
  };
}

const obsBlocks = [obsSpike, obsA1, obsA2, obsMid, obsC, obsB1, obsB2, obsB3, obsB4];

function buildOption() {
  const series: any[] = [];
  // ---- panel 1 ----
  series.push({
    type: 'custom', xAxisIndex: 0, yAxisIndex: 0, silent: true, z: 2,
    data: obsBlocks.map((b) => [b[0][0], b[0][1]]),
    renderItem: (params: any, api: any) => {
      const blk = obsBlocks[params.dataIndex];
      // solid body of the tidal record down to just above its troughs, with each trough drawn as a thin downward spike
      let base = -Infinity;
      for (const p of blk) base = Math.max(base, p[1]);
      base += 8;
      const pts: number[][] = [];
      for (const p of blk) pts.push(api.coord([p[0], p[2]]));
      for (let i = blk.length - 1; i >= 0; i--) {
        const x = blk[i][0];
        pts.push(api.coord([x + 0.05, base]));
        pts.push(api.coord([x, blk[i][1]]));
        pts.push(api.coord([x - 0.05, base]));
      }
      return { type: 'polygon', shape: { points: pts }, style: { fill: '#000', stroke: '#000', lineWidth: 1, lineJoin: 'miter' } };
    },
  });
  series.push({
    type: 'custom', xAxisIndex: 0, yAxisIndex: 0, silent: true, z: 3,
    data: obsGaps,
    renderItem: (params: any, api: any) => {
      const a = api.coord([api.value(0), api.value(1)]);
      const b = api.coord([api.value(0), api.value(2)]);
      return { type: 'line', shape: { x1: a[0], y1: a[1], x2: b[0], y2: b[1] }, style: { stroke: '#b8b8b8', lineWidth: 1.2 } };
    },
  });
  series.push({
    type: 'custom', xAxisIndex: 0, yAxisIndex: 0, silent: true, z: 3,
    data: obsLinks,
    renderItem: (params: any, api: any) => {
      const a = api.coord([api.value(0), api.value(1)]);
      const b = api.coord([api.value(2), api.value(3)]);
      return { type: 'line', shape: { x1: a[0], y1: a[1], x2: b[0], y2: b[1] }, style: { stroke: '#3a3a3a', lineWidth: 1 } };
    },
  });
  series.push({
    type: 'custom', name: 'PM(Obs)', xAxisIndex: 0, yAxisIndex: 0, silent: true, z: 4,
    data: pmObs,
    renderItem: (params: any, api: any) => {
      const x = api.value(0), y = api.value(1);
      const p = api.coord([x, y]);
      const base = api.coord([x, Math.min(y, 600)]);
      return {
        type: 'group', children: [
          { type: 'line', shape: { x1: p[0], y1: base[1], x2: p[0], y2: p[1] }, style: { stroke: '#000', lineWidth: 1 } },
          { type: 'circle', shape: { cx: p[0], cy: p[1], r: 2.9 }, style: { fill: '#000' } },
        ],
      };
    },
  });
  [hPred1, hPred2, hPred3, hPred4, hPred5, hPred6, hPred7].forEach((d, i) => {
    series.push({
      type: 'scatter', name: predNames[i], xAxisIndex: 0, yAxisIndex: 0, data: d, z: 5, silent: true,
      symbol: 'circle', symbolSize: 6.5, itemStyle: { color: predColors[i], opacity: 1 },
    });
  });
  // ---- panel 2 ----
  series.push({
    type: 'custom', xAxisIndex: 2, yAxisIndex: 2, silent: true, z: 1,
    data: xTicksLower.map((v) => [v, 0]),
    renderItem: (params: any, api: any) => {
      const a = api.coord([api.value(0), -20]);
      const b = api.coord([api.value(0), 140]);
      return { type: 'line', shape: { x1: a[0], y1: a[1], x2: b[0], y2: b[1] }, style: { stroke: GRID, lineWidth: 1 } };
    },
  });
  [dPred1, dPred2, dPred3, dPred4, dPred5, dPred6, dPred7].forEach((d, i) => {
    series.push({
      type: 'scatter', name: predNames[i], xAxisIndex: 2, yAxisIndex: 2, data: d, z: 3, silent: true,
      symbol: 'circle', symbolSize: 5.5, itemStyle: { color: predColors[i], opacity: 1 },
    });
  });
  series.push({
    type: 'custom', xAxisIndex: 2, yAxisIndex: 2, silent: true, z: 4,
    dimensions: ['x', 'm', 's'], encode: { x: 0, y: 1 },
    data: moyStd,
    renderItem: (params: any, api: any) => {
      const x = api.value(0), m = api.value(1), s = api.value(2);
      const t = api.coord([x, m + s]);
      const b = api.coord([x, m - s]);
      const st = { stroke: '#111', lineWidth: 1.1 };
      return {
        type: 'group', children: [
          { type: 'line', shape: { x1: t[0], y1: t[1], x2: b[0], y2: b[1] }, style: st },
          { type: 'line', shape: { x1: t[0] - 3.5, y1: t[1], x2: t[0] + 3.5, y2: t[1] }, style: st },
          { type: 'line', shape: { x1: b[0] - 3.5, y1: b[1], x2: b[0] + 3.5, y2: b[1] }, style: st },
        ],
      };
    },
  });
  series.push({
    type: 'scatter', name: 'moy std', xAxisIndex: 2, yAxisIndex: 2, z: 5, silent: true,
    data: moyStd.map((r) => [r[0], r[1]]),
    symbol: 'circle', symbolSize: 8.5,
    itemStyle: { color: 'rgba(0,0,0,0)', borderColor: '#121212', borderWidth: 1.4 },
  });
  // ---- panel 3 ----
  series.push({
    type: 'custom', xAxisIndex: 4, yAxisIndex: 4, silent: true, z: 1,
    data: xTicksLower.map((v) => [v, 0]),
    renderItem: (params: any, api: any) => {
      const a = api.coord([api.value(0), 0]);
      const b = api.coord([api.value(0), 12]);
      return { type: 'line', shape: { x1: a[0], y1: a[1], x2: b[0], y2: b[1] }, style: { stroke: GRID, lineWidth: 1 } };
    },
  });
  [spm1, spm2, spm3].forEach((d) => {
    series.push({
      type: 'line', name: 'SPM', xAxisIndex: 4, yAxisIndex: 4, data: d, z: 3, silent: true,
      showSymbol: true, showAllSymbol: true, symbol: 'circle', symbolSize: 3.5,
      lineStyle: { color: '#000', width: 1.7 }, itemStyle: { color: '#000' },
    });
  });
  [nmoy1, nmoy2, nmoy3].forEach((d) => {
    series.push({
      type: 'line', name: 'NMoyen', xAxisIndex: 4, yAxisIndex: 4, data: d, z: 4, silent: true,
      showSymbol: true, showAllSymbol: true, symbol: 'circle', symbolSize: 3.5,
      lineStyle: { color: '#ff1a1a', width: 2 }, itemStyle: { color: '#ff1a1a' },
    });
  });

  // ---- graphic: legends, axis titles, highlight ----
  const g: any[] = [];
  const txt = (x: number, y: number, text: string, size = 9) => ({
    type: 'text', x, y, z: 52,
    style: { text, fontSize: size, fontWeight: 'bold', fontFamily: FONT, fill: '#000', verticalAlign: 'middle', align: 'left' },
  });
  // legend 1
  g.push({ type: 'rect', z: 50, shape: { x: 189.5, y: 72.5, width: 73, height: 110 }, style: { fill: '#fff', stroke: LINE, lineWidth: 1 } });
  g.push({ type: 'line', z: 51, shape: { x1: 193, y1: 80, x2: 219, y2: 80 }, style: { stroke: '#333', lineWidth: 1.2 } });
  g.push(txt(223, 80, 'Obs'));
  g.push({ type: 'circle', z: 51, shape: { cx: 206, cy: 92, r: 3 }, style: { fill: '#000' } });
  g.push(txt(223, 92, 'PM(Obs)'));
  predNames.forEach((n, i) => {
    const y = 104 + 12 * i;
    g.push({ type: 'circle', z: 51, shape: { cx: 206, cy: y, r: 2.6 }, style: { fill: predColors[i] } });
    g.push(txt(223, y, n));
  });
  // legend 2
  g.push({ type: 'rect', z: 50, shape: { x: 71.5, y: 276.5, width: 71, height: 96 }, style: { fill: '#fff', stroke: LINE, lineWidth: 1 } });
  predNames.forEach((n, i) => {
    const y = 283 + 12 * i;
    g.push({ type: 'circle', z: 51, shape: { cx: 88, cy: y, r: 2.3 }, style: { fill: predColors[i] } });
    g.push(txt(105, y, n));
  });
  g.push({ type: 'circle', z: 51, shape: { cx: 88, cy: 367.5, r: 4 }, style: { fill: 'none', stroke: '#111', lineWidth: 1 } });
  g.push({ type: 'line', z: 51, shape: { x1: 88, y1: 361, x2: 88, y2: 374 }, style: { stroke: '#111', lineWidth: 1 } });
  g.push({ type: 'line', z: 51, shape: { x1: 85, y1: 361, x2: 91, y2: 361 }, style: { stroke: '#111', lineWidth: 1 } });
  g.push({ type: 'line', z: 51, shape: { x1: 85, y1: 374, x2: 91, y2: 374 }, style: { stroke: '#111', lineWidth: 1 } });
  g.push(txt(105, 367.5, 'moy std'));
  // legend 3
  g.push({ type: 'rect', z: 50, shape: { x: 68.5, y: 528.5, width: 88, height: 29 }, style: { fill: '#fff', stroke: LINE, lineWidth: 1 } });
  g.push({ type: 'line', z: 51, shape: { x1: 71, y1: 533.5, x2: 98, y2: 533.5 }, style: { stroke: '#000', lineWidth: 1.6 } });
  g.push({ type: 'circle', z: 52, shape: { cx: 85, cy: 533.5, r: 1.8 }, style: { fill: '#000' } });
  g.push(txt(102, 533.5, 'SPM', 8));
  g.push({ type: 'line', z: 51, shape: { x1: 71, y1: 545, x2: 98, y2: 545 }, style: { stroke: '#ff1a1a', lineWidth: 2 } });
  g.push({ type: 'circle', z: 52, shape: { cx: 85, cy: 545, r: 1.8 }, style: { fill: '#ff1a1a' } });
  g.push({
    type: 'text', x: 102, y: 544, z: 52,
    style: {
      text: '{a|NMoyen}{b|MAS}', verticalAlign: 'middle', align: 'left',
      rich: {
        a: { fontSize: 8, fontWeight: 'bold', fontFamily: FONT, fill: '#000' },
        b: { fontSize: 6, fontWeight: 'bold', fontFamily: FONT, fill: '#000', padding: [5, 0, 0, 0] },
      },
    },
  });
  // y axis titles
  const ytitle = (x: number, y: number, text: string) => ({
    type: 'text', x, y, rotation: Math.PI / 2, z: 52,
    style: { text, fontSize: 10, fontWeight: 'bold', fontFamily: FONT, fill: TXT, align: 'center', verticalAlign: 'middle' },
  });
  g.push(ytitle(15, 125, 'H(cm)'));
  g.push(ytitle(18, 379, 'dH (Obs-Pred)(cm)'));
  g.push(ytitle(23, 619, 'std (cm)'));
  // green highlight frame
  g.push({ type: 'rect', z: 100, shape: { x: 836.5, y: 11.5, width: 164, height: 800, r: 3 }, style: { fill: 'none', stroke: GREEN, lineWidth: 7 } });
  // cropped marks at the left edge
  g.push({ type: 'rect', z: 60, shape: { x: 0, y: 706, width: 4, height: 2 }, style: { fill: '#111' } });
  g.push({ type: 'polyline', z: 60, shape: { points: [[1.5, 739], [1.5, 750], [4, 751]] }, style: { stroke: '#111', lineWidth: 1.8, fill: 'none' } });

  return {
    animation: false,
    backgroundColor: '#ffffff',
    textStyle: { fontFamily: FONT },
    grid: [
      { left: 47, top: 12, width: 1317, height: 230, containLabel: false, outerBoundsMode: 'none' },
      { left: 47, top: 267, width: 1317, height: 231, containLabel: false, outerBoundsMode: 'none' },
      { left: 47, top: 524, width: 1317, height: 230, containLabel: false, outerBoundsMode: 'none' },
    ],
    xAxis: [xAx(0, 'bottom', false), xAx(0, 'top', false), xAx(1, 'bottom', true), xAx(1, 'top', true), xAx(2, 'bottom', true), xAx(2, 'top', true)],
    yAxis: [yAx(0, 'left', -100, 800, 100), yAx(0, 'right', -100, 800, 100), yAx(1, 'left', -20, 140, 20), yAx(1, 'right', -20, 140, 20), yAx(2, 'left', 0, 12, 2), yAx(2, 'right', 0, 12, 2)],
    series,
    graphic: { elements: g },
  };
}

export default function App() {
  const ref = useRef<HTMLDivElement>(null);
  useEffect(() => {
    if (!ref.current) return;
    const chart = echarts.init(ref.current, null, { renderer: 'svg' });
    chart.setOption(buildOption() as any);
    return () => chart.dispose();
  }, []);
  return <div ref={ref} style={{ position: 'absolute', left: 0, top: 0, width: 1380, height: 770, background: '#fff' }} />;
}
